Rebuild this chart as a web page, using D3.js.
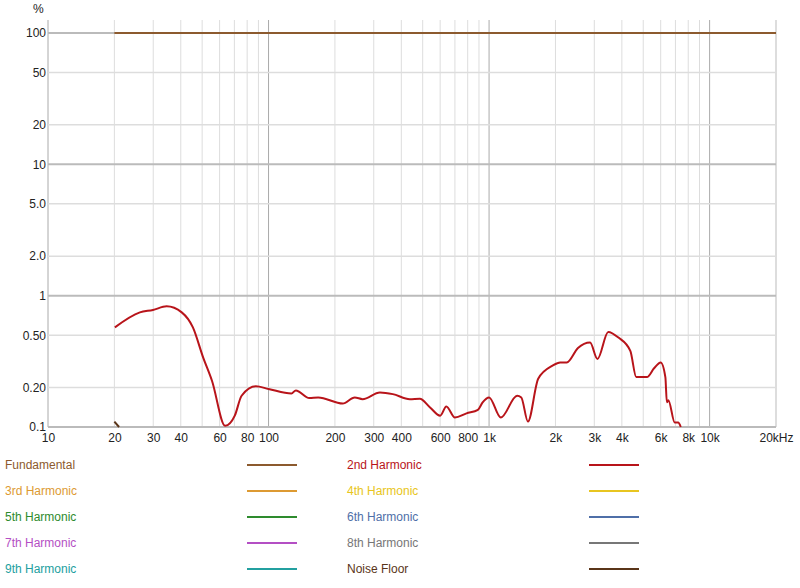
<!DOCTYPE html>
<html><head><meta charset="utf-8">
<script src="https://cdn.jsdelivr.net/npm/d3@7"></script>
<style>body{margin:0;background:#fff}svg{font-family:"Helvetica Neue",Helvetica,"Liberation Sans",Arial,sans-serif}</style>
</head><body><svg id="c" width="800" height="588"></svg>
<script>
const xTicks=[10,20,30,40,60,80,100,200,300,400,600,800,1000,2000,3000,4000,6000,8000,10000,20000];
const xTickLabels=["10","20","30","40","60","80","100","200","300","400","600","800","1k","2k","3k","4k","6k","8k","10k","20kHz"];
const xMinor=[50,70,90,500,700,900,5000,7000,9000];
const yTicks=[100,50,20,10,5,2,1,0.5,0.2,0.1];
const yTickLabels=["100","50","20","10","5.0","2.0","1","0.50","0.20","0.1"];
const fundFreq=[20,20000];
const fundVal=[100,100];
const h2Freq=[20.1,26.1,29.9,34.5,40.4,45.4,50.5,55.4,63.6,70.3,75.5,87.6,100,127,133,153,168,217,246,267,320,366,437,485,540,600,640,700,790,890,935,1000,1130,1340,1400,1500,1670,1940,2100,2250,2530,2870,3100,3470,3860,4370,4650,5200,5600,6000,6300,6400,6500,6950,7200,7400];
const h2Val=[0.573,0.746,0.778,0.83,0.746,0.573,0.339,0.225,0.102,0.122,0.173,0.204,0.195,0.18,0.19,0.166,0.168,0.151,0.168,0.163,0.183,0.178,0.163,0.164,0.141,0.122,0.143,0.118,0.127,0.135,0.154,0.168,0.118,0.173,0.168,0.11,0.233,0.293,0.31,0.31,0.40,0.44,0.33,0.53,0.48,0.38,0.24,0.24,0.28,0.31,0.24,0.154,0.16,0.108,0.108,0.1];
const noiseFreq=[20,21];
const noiseVal=[0.11,0.1];
const legendNames=["Fundamental","2nd Harmonic","3rd Harmonic","4th Harmonic","5th Harmonic","6th Harmonic","7th Harmonic","8th Harmonic","9th Harmonic","Noise Floor"];
const legendColors=["#8c5a2e","#b8141a","#dd9a32","#e8c520","#2e8b2e","#4f6fa8","#b44fc4","#777777","#23a0a0","#5a3519"];

const svg=d3.select("#c");
const x=d3.scaleLog().domain([10,20000]).range([48,776]);
const y=d3.scaleLog().domain([0.1,100]).range([427,33]);
const g=svg.append("g");
const major=[10,100,1000,10000];
xTicks.concat(xMinor).forEach(v=>{
  g.append("line").attr("x1",x(v)).attr("x2",x(v)).attr("y1",20).attr("y2",427)
   .attr("stroke",major.includes(v)?"#aaa":"#ddd").attr("stroke-width",1);
});
g.append("line").attr("x1",x(20000)).attr("x2",x(20000)).attr("y1",20).attr("y2",427).attr("stroke","#ccc");
yTicks.forEach(v=>{
  const maj=[100,10,1,0.1].includes(v);
  g.append("line").attr("x1",48).attr("x2",776).attr("y1",y(v)).attr("y2",y(v))
   .attr("stroke",maj?"#bbb":"#ddd").attr("stroke-width",maj?2:1.5);
});
const xa=svg.append("g").attr("transform","translate(0,427)")
 .call(d3.axisBottom(x).tickValues(xTicks).tickFormat((d,i)=>xTickLabels[i]).tickSize(0).tickPadding(6));
xa.select(".domain").remove();
xa.selectAll("text").attr("font-size",12).attr("fill","#222").style("font-family","inherit");
const ya=svg.append("g").attr("transform","translate(46,0)")
 .call(d3.axisLeft(y).tickValues(yTicks).tickFormat((d,i)=>yTickLabels[i]).tickSize(0).tickPadding(0));
ya.select(".domain").remove();
ya.selectAll("text").attr("font-size",12).attr("fill","#222").style("font-family","inherit");
svg.append("text").attr("x",33).attr("y",13).attr("font-size",12).attr("fill","#222").text("%");

const line=d3.line().x(d=>x(d[0])).y(d=>y(d[1])).curve(d3.curveMonotoneX);
svg.append("path").datum(fundFreq.map((f,i)=>[f,fundVal[i]])).attr("d",line).attr("fill","none").attr("stroke",legendColors[0]).attr("stroke-width",2);
svg.append("path").datum(h2Freq.map((f,i)=>[f,h2Val[i]])).attr("d",line).attr("fill","none").attr("stroke",legendColors[1]).attr("stroke-width",2);
svg.append("path").datum(noiseFreq.map((f,i)=>[f,noiseVal[i]])).attr("d",line).attr("fill","none").attr("stroke",legendColors[9]).attr("stroke-width",2);

legendNames.forEach((n,i)=>{
  const col=i%2, row=Math.floor(i/2);
  const tx=col?347:5, lx=col?589:247, yy=465+row*26;
  svg.append("text").attr("x",tx).attr("y",yy+4).attr("font-size",12).attr("fill",legendColors[i]).text(n);
  svg.append("line").attr("x1",lx).attr("x2",lx+50).attr("y1",yy).attr("y2",yy).attr("stroke",legendColors[i]).attr("stroke-width",2);
});
</script></body></html>
